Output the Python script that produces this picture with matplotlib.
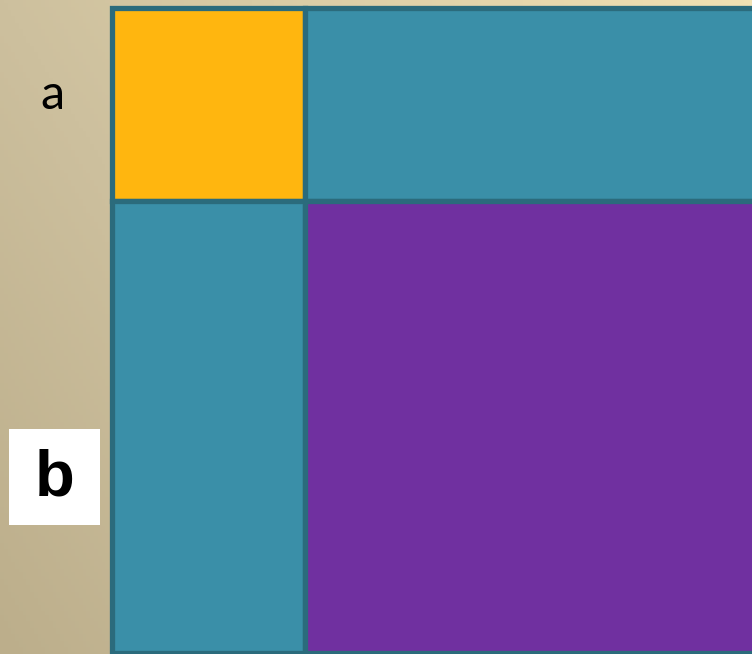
"""
Square split into a^2, ab, ab, b^2 pieces.
"""

import numpy as np
import matplotlib
matplotlib.use('Agg')
import matplotlib.pyplot as plt
from matplotlib.patches import Rectangle
from matplotlib.colors import LinearSegmentedColormap

# side lengths (a, b) in units of a
side_labels = ['a', 'b']
side_lengths = [1.0, 2.34]
# cell colours, row by row
cell_colors = [['#FFB60F', '#3A8FA8'],
               ['#3A8FA8', '#7030A0']]
edge_color = '#2B6B7C'

fig = plt.figure(figsize=(7.52, 6.54), dpi=100)
ax = fig.add_axes([0, 0, 1, 1])

# pixel scale: origin of the big square at (112, 8), a = 193 px
px = 193.0
x0, y0 = 112, 8
ax.set_xlim(-x0 / px, (752 - x0) / px)
ax.set_ylim((654 - y0) / px, -y0 / px)
ax.axis('off')

# beige diagonal gradient background (dark bottom-left, light top-right)
bg = LinearSegmentedColormap.from_list('bg', [(0, '#bcae8b'), (0.35, '#cdc09e'), (1, '#f1e1b3')])
gx, gy = np.meshgrid(np.linspace(0, 1, 200), np.linspace(0, 1, 200))
grad = 0.65 * gx + 0.35 * gy
ax.imshow(grad, cmap=bg, extent=[*ax.get_xlim(), *ax.get_ylim()],
          aspect='auto', zorder=0, origin='lower')

# the four pieces
offsets = np.concatenate([[0], np.cumsum(side_lengths)])
for i in range(2):
    for j in range(2):
        ax.add_patch(Rectangle((offsets[j], offsets[i]), side_lengths[j], side_lengths[i],
                               facecolor=cell_colors[i][j], edgecolor=edge_color,
                               linewidth=3.8, zorder=2))

# label "a"
ax.text((52 - x0) / px, (95 - y0) / px, side_labels[0], fontsize=35,
        family='Lato', ha='center', va='center', color='black', zorder=3)

# label "b" on white box
ax.add_patch(Rectangle(((9 - x0) / px, (429 - y0) / px), 91 / px, 96 / px,
                       facecolor='white', edgecolor='none', zorder=3))
ax.text((55 - x0) / px, (478 - y0) / px, side_labels[1], fontsize=47,
        family='Liberation Sans', fontweight='bold', ha='center', va='center',
        color='black', zorder=4)

plt.savefig('out.png', dpi=100)
plt.close('all')
